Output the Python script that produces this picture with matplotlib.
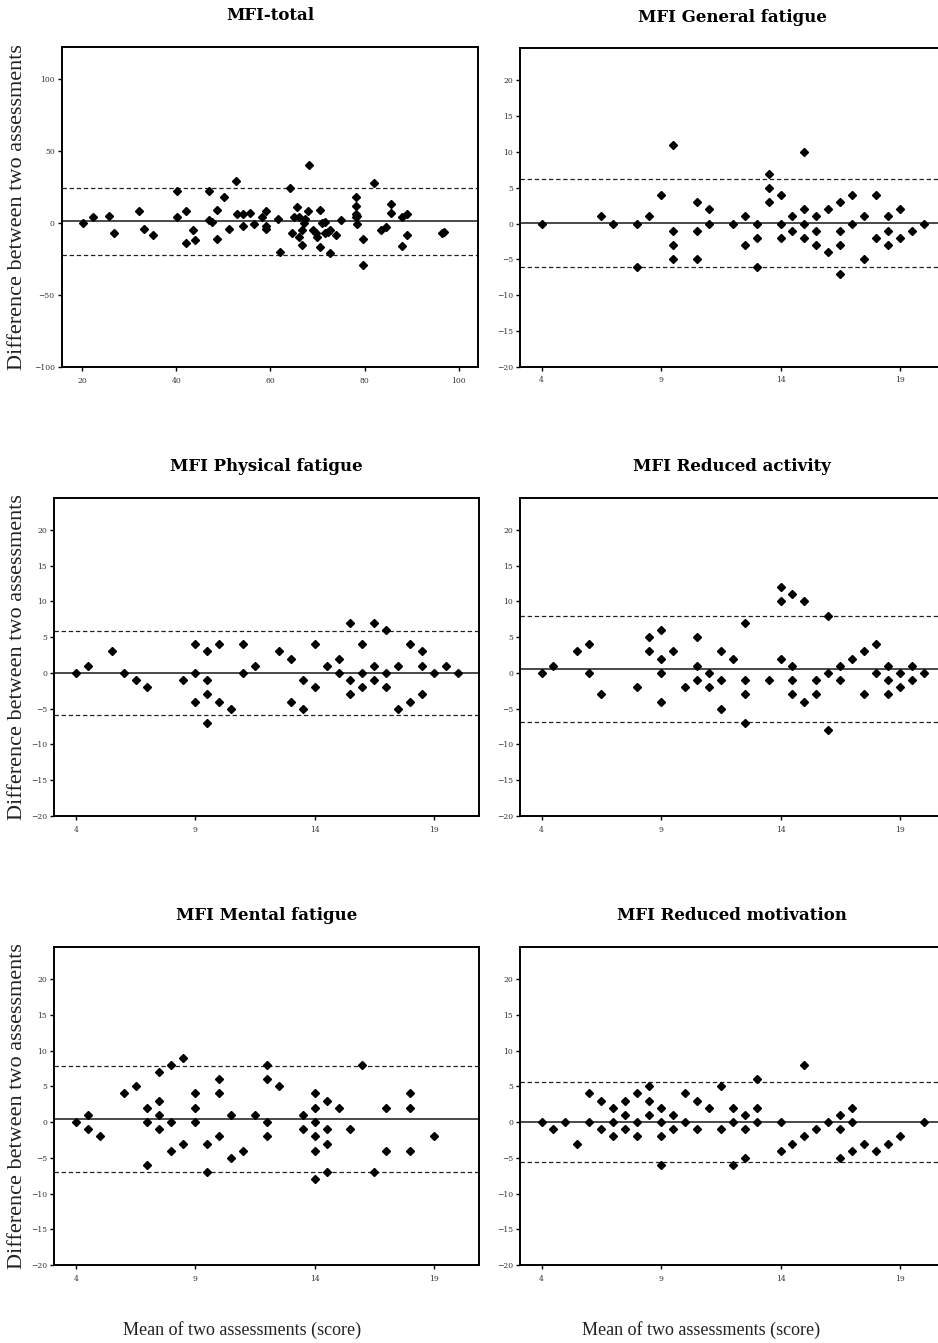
import matplotlib
matplotlib.use("Agg")
import matplotlib.pyplot as plt

# ---------------- data ----------------
titles = ["MFI-total", "MFI General fatigue", "MFI Physical fatigue",
          "MFI Reduced activity", "MFI Mental fatigue", "MFI Reduced motivation"]

total_x = [20.1, 22.2, 25.6, 26.7, 32.1, 33.0, 35.0, 40.1, 40.1, 42.1,
           42.1, 43.5, 44.0, 47.0, 47.0, 47.6, 48.6, 48.6, 50.1, 51.1,
           52.6, 52.9, 54.1, 54.1, 55.6, 56.6, 58.1, 59.1, 59.1, 59.1,
           61.6, 62.1, 64.1, 64.6, 65.0, 65.6, 66.0, 66.1, 66.6, 66.6,
           67.1, 67.4, 68.0, 68.2, 69.0, 69.6, 70.0, 70.6, 70.6, 71.0,
           71.6, 71.6, 72.3, 72.6, 72.6, 74.0, 75.0, 78.1, 78.1, 78.1,
           78.1, 78.5, 78.5, 79.6, 79.6, 82.1, 83.5, 84.6, 85.6, 85.6,
           88.0, 88.0, 89.1, 89.1, 96.5, 97.0]
total_y = [0, 4, 5, -7, 8, -4, -8, 22, 4, 8,
           -14, -5, -12, 22, 2, 1, 9, -11, 18, -4,
           29, 6, 6, -2, 7, -1, 4, 8, -2, -4,
           3, -20, 24, -7, 4, 11, 4, -10, -5, -15,
           0, 3, 8, 40, -5, -7, -10, 9, -17, 0,
           1, -7, -6, -5, -21, -8, 2, 18, 12, 6,
           4, 5, -1, -11, -29, 28, -5, -3, 13, 7,
           4, -16, 6, -8, -7, -6]

gen_x = [4, 6.5, 7, 8, 8, 8.5, 9, 9.5, 9.5, 9.5, 9.5, 10.5, 10.5, 10.5, 11, 11,
         12, 12.5, 12.5, 13, 13, 13, 13.5, 13.5, 13.5, 14, 14, 14, 14.5, 14.5,
         15, 15, 15, 15, 15.5, 15.5, 15.5, 16, 16, 16.5, 16.5, 16.5, 16.5,
         17, 17, 17.5, 17.5, 18, 18, 18.5, 18.5, 18.5, 19, 19, 19.5, 20]
gen_y = [0, 1, 0, 0, -6, 1, 4, 11, -1, -3, -5, 3, -1, -5, 2, 0,
         0, 1, -3, 0, -2, -6, 7, 5, 3, 4, 0, -2, 1, -1,
         10, 2, 0, -2, 1, -1, -3, 2, -4, 3, -1, -3, -7,
         4, 0, 1, -5, 4, -2, 1, -1, -3, 2, -2, -1, 0]

phy_x = [4, 4.5, 5.5, 6, 6.5, 7, 8.5, 9, 9, 9, 9.5, 9.5, 9.5, 9.5, 10, 10,
         10.5, 11, 11, 11.5, 12.5, 13, 13, 13.5, 13.5, 14, 14, 14.5, 15, 15,
         15.5, 15.5, 15.5, 16, 16, 16, 16.5, 16.5, 16.5, 17, 17, 17,
         17.5, 17.5, 18, 18, 18.5, 18.5, 18.5, 19, 19.5, 20]
phy_y = [0, 1, 3, 0, -1, -2, -1, 4, 0, -4, 3, -1, -3, -7, 4, -4,
         -5, 4, 0, 1, 3, 2, -4, -1, -5, 4, -2, 1, 2, 0,
         7, -1, -3, 4, 0, -2, 7, 1, -1, 6, 0, -2,
         1, -5, 4, -4, 3, 1, -3, 0, 1, 0]

act_x = [4, 4.5, 5.5, 6, 6, 6.5, 8, 8.5, 8.5, 9, 9, 9, 9, 9.5, 10,
         10.5, 10.5, 10.5, 11, 11, 11.5, 11.5, 11.5, 12, 12.5, 12.5, 12.5, 12.5,
         13.5, 14, 14, 14, 14.5, 14.5, 14.5, 14.5, 15, 15, 15.5, 15.5,
         16, 16, 16, 16.5, 16.5, 17, 17.5, 17.5, 18, 18, 18.5, 18.5, 18.5,
         19, 19, 19.5, 19.5, 20]
act_y = [0, 1, 3, 4, 0, -3, -2, 5, 3, 6, 2, 0, -4, 3, -2,
         5, 1, -1, 0, -2, 3, -1, -5, 2, 7, -1, -3, -7,
         -1, 12, 10, 2, 11, 1, -1, -3, 10, -4, -1, -3,
         8, 0, -8, 1, -1, 2, 3, -3, 4, 0, 1, -1, -3,
         0, -2, 1, -1, 0]

men_x = [4, 4.5, 4.5, 5, 6, 6.5, 7, 7, 7, 7.5, 7.5, 7.5, 7.5, 8, 8, 8,
         8.5, 8.5, 9, 9, 9, 9.5, 9.5, 10, 10, 10, 10.5, 10.5, 11, 11.5,
         12, 12, 12, 12, 12.5, 13.5, 13.5, 14, 14, 14, 14, 14, 14,
         14.5, 14.5, 14.5, 14.5, 15, 15.5, 16, 16.5, 17, 17, 18, 18, 18, 19]
men_y = [0, 1, -1, -2, 4, 5, 2, 0, -6, 7, 3, 1, -1, 8, 0, -4,
         9, -3, 4, 2, 0, -3, -7, 6, 4, -2, 1, -5, -4, 1,
         8, 6, 0, -2, 5, 1, -1, 4, 2, 0, -2, -4, -8,
         3, -1, -3, -7, 2, -1, 8, -7, 2, -4, 4, 2, -4, -2]

mot_x = [4, 4.5, 5, 5.5, 6, 6, 6.5, 6.5, 7, 7, 7, 7.5, 7.5, 7.5, 8, 8, 8,
         8.5, 8.5, 8.5, 9, 9, 9, 9, 9.5, 9.5, 10, 10, 10.5, 10.5, 11,
         11.5, 11.5, 12, 12, 12, 12.5, 12.5, 12.5, 13, 13, 13, 14, 14,
         14.5, 15, 15, 15.5, 16, 16.5, 16.5, 16.5, 17, 17, 17, 17.5, 18,
         18.5, 19, 20]
mot_y = [0, -1, 0, -3, 4, 0, 3, -1, 2, 0, -2, 3, 1, -1, 4, 0, -2,
         5, 3, 1, 2, 0, -2, -6, 1, -1, 4, 0, 3, -1, 2,
         5, -1, 2, 0, -6, 1, -1, -5, 6, 2, 0, 0, -4,
         -3, 8, -2, -1, 0, 1, -1, -5, 2, 0, -4, -3, -4,
         -3, -2, 0]

# mean difference and limits of agreement (upper, lower)
mean_diff = [1.2, 0.05, -0.02, 0.55, 0.47, 0.05]
loa_upper = [24.4, 6.26, 5.8, 7.94, 7.9, 5.65]
loa_lower = [-22.0, -6.12, -5.84, -6.82, -7.0, -5.56]

total_xticks = [20, 40, 60, 80, 100]
total_yticks = [-100, -50, 0, 50, 100]
sub_xticks = [4, 9, 14, 19]
sub_yticks = [-20, -15, -10, -5, 0, 5, 10, 15, 20]

ylabel = "Difference between two assessments"
xlabel = "Mean of two assessments (score)"

# ---------------- layout ----------------
W, H = 938, 1343
fig = plt.figure(figsize=(W / 100, H / 100), dpi=100)

# pixel boxes: left, right, top, bottom
boxes = [
    (61.7, 478.3, 46.7, 367.0),
    (520.0, 945.0, 48.3, 366.7),
    (54.3, 479.0, 497.7, 816.0),
    (520.0, 945.0, 497.7, 816.0),
    (54.3, 479.0, 947.0, 1265.0),
    (520.0, 945.0, 947.0, 1265.0),
]

series = [(total_x, total_y), (gen_x, gen_y), (phy_x, phy_y),
          (act_x, act_y), (men_x, men_y), (mot_x, mot_y)]

serif_bold = "DejaVu Serif"
label_font = "Liberation Serif"

for i, ((l, r, t, b), (xs, ys)) in enumerate(zip(boxes, series)):
    ax = fig.add_axes([l / W, 1 - b / H, (r - l) / W, (b - t) / H])
    ax.plot(xs, ys, linestyle="none", marker="D", markersize=4.2,
            color="black", zorder=3)
    ax.axhline(mean_diff[i], color="#2a2a2a", lw=1.2, zorder=2)
    ax.axhline(loa_upper[i], color="#222222", lw=0.9, ls=(0, (3.5, 2.2)), zorder=2)
    ax.axhline(loa_lower[i], color="#222222", lw=0.9, ls=(0, (3.5, 2.2)), zorder=2)
    if i == 0:
        ax.set_xlim(15.6, 104.2)
        ax.set_ylim(-100, 122.4)
        ax.set_xticks(total_xticks)
        ax.set_yticks(total_yticks)
    else:
        ax.set_xlim(3.1, 20.88)
        ax.set_ylim(-20, 24.5)
        ax.set_xticks(sub_xticks)
        ax.set_yticks(sub_yticks)
    for sp in ax.spines.values():
        sp.set_linewidth(1.4)
        sp.set_color("black")
    ax.tick_params(axis="both", direction="out", length=3, width=1,
                   labelsize=5.5, labelcolor="#333333", pad=2)
    ax.tick_params(axis="x", pad=4)
    for lab in ax.get_xticklabels() + ax.get_yticklabels():
        lab.set_family(serif_bold)
    # title
    cx = (l + r) / 2 if i % 2 == 0 else 732
    fig.text(cx / W, 1 - (t - 31) / H, titles[i], ha="center", va="center",
             fontsize=12, fontweight="bold", family=serif_bold)

# y labels (one per row)
for yc in [207, 657, 1106]:
    fig.text(18 / W, 1 - yc / H, ylabel, rotation=90, ha="center", va="center",
             fontsize=16, family=label_font, color="#222222")

# x labels
for xc in [242, 701]:
    fig.text(xc / W, 1 - 1330 / H, xlabel, ha="center", va="center",
             fontsize=13, family=label_font, color="#222222")

fig.savefig("out.png", dpi=100)
